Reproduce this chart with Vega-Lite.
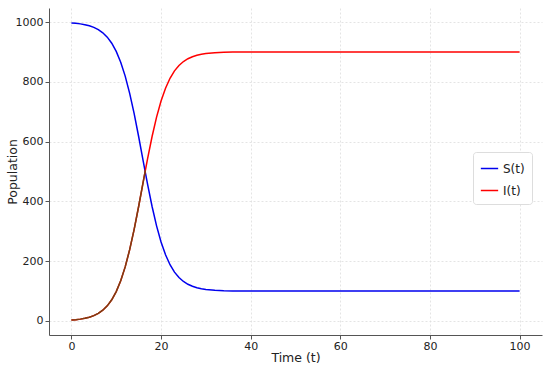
{
  "$schema": "https://vega.github.io/schema/vega-lite/v6.json",
  "width": 493,
  "height": 327,
  "autosize": {"type": "none"},
  "padding": {"left": 49, "top": 8, "right": 8, "bottom": 33},
  "background": "white",
  "config": {
    "font": "DejaVu Sans",
    "view": {"stroke": null},
    "axis": {
      "labelFont": "DejaVu Sans",
      "titleFont": "DejaVu Sans",
      "labelFontSize": 11,
      "titleFontSize": 12.5,
      "titleFontWeight": "normal",
      "labelColor": "#222222",
      "titleColor": "#222222",
      "domainColor": "#555555",
      "tickColor": "#555555",
      "tickSize": 4,
      "labelPadding": 2,
      "gridColor": "#dddddd",
      "gridDash": [2, 2],
      "gridWidth": 0.8
    }
  },
  "data": {
    "values": [
      {"t": 0, "S": 997.0, "I": 3.0},
      {"t": 1, "S": 995.7, "I": 4.3},
      {"t": 2, "S": 993.9, "I": 6.1},
      {"t": 3, "S": 991.2, "I": 8.8},
      {"t": 4, "S": 987.5, "I": 12.5},
      {"t": 5, "S": 982.2, "I": 17.8},
      {"t": 6, "S": 974.6, "I": 25.4},
      {"t": 7, "S": 964.1, "I": 35.9},
      {"t": 8, "S": 949.4, "I": 50.6},
      {"t": 9, "S": 929.2, "I": 70.8},
      {"t": 10, "S": 901.8, "I": 98.2},
      {"t": 11, "S": 865.7, "I": 134.3},
      {"t": 12, "S": 819.1, "I": 180.9},
      {"t": 13, "S": 761.5, "I": 238.5},
      {"t": 14, "S": 693.4, "I": 306.6},
      {"t": 15, "S": 617.1, "I": 382.9},
      {"t": 16, "S": 536.6, "I": 463.4},
      {"t": 16.5, "S": 496.4, "I": 503.6},
      {"t": 17, "S": 456.9, "I": 543.1},
      {"t": 18, "S": 383.0, "I": 617.0},
      {"t": 19, "S": 318.2, "I": 681.8},
      {"t": 20, "S": 264.2, "I": 735.8},
      {"t": 21, "S": 221.3, "I": 778.7},
      {"t": 22, "S": 188.2, "I": 811.8},
      {"t": 23, "S": 163.4, "I": 836.6},
      {"t": 24, "S": 145.2, "I": 854.8},
      {"t": 25, "S": 132.0, "I": 868.0},
      {"t": 26, "S": 122.6, "I": 877.4},
      {"t": 27, "S": 115.9, "I": 884.1},
      {"t": 28, "S": 111.1, "I": 888.9},
      {"t": 29, "S": 107.8, "I": 892.2},
      {"t": 30, "S": 105.5, "I": 894.5},
      {"t": 32, "S": 102.7, "I": 897.3},
      {"t": 34, "S": 101.3, "I": 898.7},
      {"t": 36, "S": 100.6, "I": 899.4},
      {"t": 38, "S": 100.3, "I": 899.7},
      {"t": 40, "S": 100.2, "I": 899.8},
      {"t": 45, "S": 100.0, "I": 900.0},
      {"t": 50, "S": 100.0, "I": 900.0},
      {"t": 60, "S": 100.0, "I": 900.0},
      {"t": 70, "S": 100.0, "I": 900.0},
      {"t": 80, "S": 100.0, "I": 900.0},
      {"t": 90, "S": 100.0, "I": 900.0},
      {"t": 100, "S": 100.0, "I": 900.0}
    ]
  },
  "transform": [
    {"fold": ["S", "I"], "as": ["key", "value"]},
    {"calculate": "datum.key == 'S' ? 'S(t)' : 'I(t)'", "as": "series"}
  ],
  "layer": [
    {
      "mark": {"type": "line", "strokeWidth": 1.5},
      "encoding": {
        "x": {
          "field": "t", "type": "quantitative",
          "scale": {"domain": [-5, 105], "nice": false, "zero": false},
          "axis": {"values": [0, 20, 40, 60, 80, 100], "format": "d", "title": "Time (t)", "grid": true, "titlePadding": 0, "labelPadding": 1}
        },
        "y": {
          "field": "value", "type": "quantitative",
          "scale": {"domain": [-47, 1047], "nice": false, "zero": false},
          "axis": {"values": [0, 200, 400, 600, 800, 1000], "format": "d", "title": "Population", "grid": true, "titlePadding": -4}
        },
        "color": {
          "field": "series", "type": "nominal",
          "scale": {"domain": ["S(t)", "I(t)"], "range": ["#0000ee", "#ff0000"]},
          "legend": {
            "title": null,
            "orient": "none",
            "legendX": 424,
            "legendY": 144,
            "symbolType": "stroke",
            "symbolSize": 300,
            "symbolStrokeWidth": 1.5,
            "labelFontSize": 12,
            "labelColor": "#222222",
            "rowPadding": 6,
            "padding": 7,
            "strokeColor": "#dddddd",
            "fillColor": "white",
            "cornerRadius": 3
          }
        },
        "detail": {"field": "series"}
      }
    },
    {
      "transform": [{"filter": "datum.series == 'I(t)' && datum.t <= 16.5"}],
      "mark": {"type": "line", "strokeWidth": 1.5, "color": "#7a3f12"},
      "encoding": {
        "x": {"field": "t", "type": "quantitative"},
        "y": {"field": "value", "type": "quantitative"}
      }
    }
  ]
}
